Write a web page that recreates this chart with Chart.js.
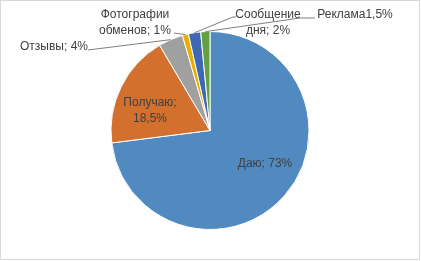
<!DOCTYPE html>
<html>
<head>
<meta charset="utf-8">
<script src="https://cdn.jsdelivr.net/npm/chart.js@4"></script>
<style>
  html, body { margin: 0; padding: 0; background: #fff; }
  #pieCanvas { display: block; }
</style>
</head>
<body>
<canvas id="pieCanvas" width="421" height="261"></canvas>
<script>
// Данные
const categories = ["Даю", "Получаю", "Отзывы", "Фотографии обменов", "Сообщение дня", "Реклама"];
const shares = [73, 18.5, 4, 1, 2, 1.5];
const labelTexts = [
    ["Даю; 73%"],
    ["Получаю;", "18,5%"],
    ["Отзывы; 4%"],
    ["Фотографии", "обменов; 1%"],
    ["Сообщение", "дня; 2%"],
    ["Реклама1,5%"],
];
const sliceColors = ["#508AC0", "#D4702E", "#A0A0A0", "#E8AE00", "#3F68B4", "#64A044"];

// label placement (center x, first line y) and leader line points after the slice edge
const labelSpots = [
    { x: 265, y: 164 },
    { x: 150, y: 103 },
    { x: 54, y: 47, leader: [[88, 50]] },
    { x: 135, y: 15, leader: [[174, 33]] },
    { x: 268, y: 15, leader: [[233, 17], [236, 17]] },
    { x: 355, y: 15, leader: [[300, 18], [315, 18]] },
];

const labelsPlugin = {
    id: "excelLabels",
    beforeDraw(chart) {
        const ctx = chart.ctx;
        ctx.save();
        ctx.fillStyle = "#fff";
        ctx.fillRect(0, 0, chart.width, chart.height);
        ctx.restore();
    },
    afterDatasetsDraw(chart) {
        const ctx = chart.ctx;
        const arcs = chart.getDatasetMeta(0).data;
        ctx.save();
        // leader lines
        ctx.strokeStyle = "#7F7F7F";
        ctx.lineWidth = 1;
        arcs.forEach((arc, i) => {
            const spot = labelSpots[i];
            if (!spot.leader) return;
            const mid = (arc.startAngle + arc.endAngle) / 2;
            ctx.beginPath();
            ctx.moveTo(arc.x + Math.cos(mid) * arc.outerRadius, arc.y + Math.sin(mid) * arc.outerRadius);
            spot.leader.forEach(p => ctx.lineTo(p[0], p[1]));
            ctx.stroke();
        });
        // texts
        ctx.fillStyle = "#404040";
        ctx.font = '12px "Liberation Sans", Arial, sans-serif';
        ctx.textAlign = "center";
        ctx.textBaseline = "middle";
        labelTexts.forEach((lines, i) => {
            const spot = labelSpots[i];
            lines.forEach((t, k) => ctx.fillText(t, spot.x, spot.y + k * 16));
        });
        ctx.restore();
    },
    afterDraw(chart) {
        const ctx = chart.ctx;
        ctx.save();
        ctx.strokeStyle = "#D9D9D9";
        ctx.lineWidth = 1;
        ctx.strokeRect(0.5, 0.5, chart.width - 2, chart.height - 2);
        ctx.restore();
    },
};

new Chart(document.getElementById("pieCanvas"), {
    type: "pie",
    data: {
        labels: categories,
        datasets: [
            {
                data: shares,
                backgroundColor: sliceColors,
                borderColor: "#fff",
                borderWidth: 1,
                hoverOffset: 0,
            },
        ],
    },
    options: {
        responsive: false,
        animation: false,
        events: [],
        layout: { padding: { top: 31, bottom: 31, left: 100, right: 101 } },
        plugins: {
            legend: { display: false },
            tooltip: { enabled: false },
        },
    },
    plugins: [labelsPlugin],
});
</script>
</body>
</html>
